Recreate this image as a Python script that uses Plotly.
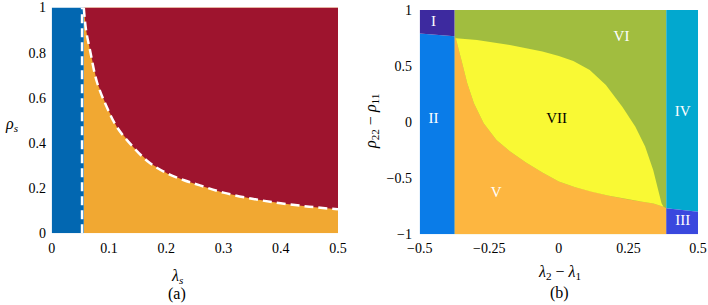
import plotly.graph_objects as go

# ---------------- data: panel (a) ----------------
lam_ticks = [0, 0.1, 0.2, 0.3, 0.4, 0.5]
lam_ticktext = ["0", "0.1", "0.2", "0.3", "0.4", "0.5"]
rho_ticks = [0, 0.2, 0.4, 0.6, 0.8, 1]
rho_ticktext = ["0", "0.2", "0.4", "0.6", "0.8", "1"]

lam_blue_edge = 0.056          # blue / orange boundary
lam_vline = 0.053              # dashed vertical line
# dashed boundary between orange and red regions
lam_curve = [0.056, 0.060, 0.067, 0.079, 0.096, 0.114, 0.143, 0.172, 0.201,
             0.230, 0.259, 0.300, 0.350, 0.400, 0.450, 0.500]
rho_curve = [1.000, 0.900, 0.810, 0.670, 0.560, 0.470, 0.380, 0.310, 0.266,
             0.236, 0.212, 0.180, 0.153, 0.133, 0.118, 0.106]

# ---------------- data: panel (b) ----------------
dl_ticks = [-0.5, -0.25, 0, 0.25, 0.5]
dl_ticktext = ["\u22120.5", "\u22120.25", "0", "0.25", "0.5"]
dr_ticks = [-1, -0.5, 0, 0.5, 1]
dr_ticktext = ["\u22121", "\u22120.5", "0", "0.5", "1"]

x_left_edge = -0.375           # II / V boundary
x_right_edge = 0.386           # VI,V / IV,III boundary
I_bottom_x = [-0.5, -0.375]
I_bottom_y = [0.790, 0.765]
III_top_x = [0.386, 0.5]
III_top_y = [-0.767, -0.798]
# yellow region (VII) upper boundary
vii_up_x = [-0.370, -0.294, -0.176, -0.059, 0.000, 0.052, 0.111, 0.169, 0.228,
            0.275, 0.310, 0.339, 0.357, 0.369, 0.376]
vii_up_y = [0.748, 0.733, 0.688, 0.630, 0.590, 0.545, 0.465, 0.332, 0.138,
            -0.040, -0.218, -0.426, -0.604, -0.723, -0.755]
# yellow region (VII) lower boundary
vii_lo_x = [-0.370, -0.347, -0.329, -0.305, -0.270, -0.224, -0.176, -0.118,
            -0.059, 0.000, 0.059, 0.118, 0.176, 0.250, 0.300, 0.340, 0.376]
vii_lo_y = [0.745, 0.525, 0.347, 0.168, -0.010, -0.159, -0.260, -0.360,
            -0.450, -0.530, -0.580, -0.620, -0.655, -0.690, -0.710, -0.725, -0.755]

region_names = ["I", "II", "III", "IV", "V", "VI", "VII"]
region_lx = [-0.45, -0.45, 0.445, 0.445, -0.225, 0.225, -0.008]
region_ly = [0.89, 0.03, -0.885, 0.09, -0.63, 0.76, 0.03]
region_tc = ["white", "white", "white", "white", "white", "white", "black"]

# ---------------- colours ----------------
C_BLUE, C_RED, C_ORANGE = "#0267B1", "#9E142E", "#F1A832"
C_I, C_II, C_III, C_IV = "#3D2A9F", "#0A7CE8", "#3A48DE", "#02A8CF"
C_V, C_VI, C_VII = "#FDB640", "#A1BD3F", "#F9F934"

FONT = "'Liberation Serif', 'DejaVu Serif', serif"
fig = go.Figure()


def poly(xs, ys, color, xa, ya):
    fig.add_trace(go.Scatter(x=xs, y=ys, fill="toself", fillcolor=color,
                             mode="lines", line=dict(width=0, color=color),
                             hoverinfo="skip", showlegend=False,
                             xaxis=xa, yaxis=ya))


# panel (a)
poly([lam_blue_edge, 0.5, 0.5, lam_blue_edge], [0, 0, 1, 1], C_ORANGE, "x", "y")
poly(lam_curve + [0.5], rho_curve + [1.0], C_RED, "x", "y")
poly([0, lam_blue_edge, lam_blue_edge, 0], [0, 0, 1, 1], C_BLUE, "x", "y")
fig.add_trace(go.Scatter(x=[lam_vline, lam_vline], y=[0, 1], mode="lines",
                         line=dict(color="white", width=2.5, dash="9px,5px"),
                         hoverinfo="skip", showlegend=False, xaxis="x", yaxis="y"))
fig.add_trace(go.Scatter(x=lam_curve, y=rho_curve, mode="lines", line_shape="spline",
                         line=dict(color="white", width=2.5, dash="9px,5px"),
                         hoverinfo="skip", showlegend=False, xaxis="x", yaxis="y"))

# panel (b)
poly([x_left_edge, x_right_edge, x_right_edge, x_left_edge], [-1, -1, 1, 1], C_VI, "x2", "y2")
poly([x_left_edge, x_right_edge] + III_top_x[:1] + vii_lo_x[::-1] + [x_left_edge],
     [-1, -1] + III_top_y[:1] + vii_lo_y[::-1] + [I_bottom_y[1]], C_V, "x2", "y2")
poly(vii_up_x + vii_lo_x[::-1], vii_up_y + vii_lo_y[::-1], C_VII, "x2", "y2")
poly([-0.5, x_left_edge, x_left_edge, -0.5], [-1, -1] + I_bottom_y[::-1], C_II, "x2", "y2")
poly(I_bottom_x + [x_left_edge, -0.5], I_bottom_y + [1, 1], C_I, "x2", "y2")
poly(III_top_x + [0.5, x_right_edge], III_top_y + [1, 1], C_IV, "x2", "y2")
poly(III_top_x[::-1] + [x_right_edge, 0.5], III_top_y[::-1] + [-1, -1], C_III, "x2", "y2")

fig.add_trace(go.Scatter(x=region_lx, y=region_ly, mode="text", text=region_names,
                         textfont=dict(family=FONT, size=15, color=region_tc),
                         hoverinfo="skip", showlegend=False, xaxis="x2", yaxis="y2"))

W, H = 708, 305
axcommon = dict(showgrid=False, zeroline=False, showline=False, ticks="outside",
                tickcolor="rgba(0,0,0,0)", automargin=False, ticklabeloverflow="allow",
                tickfont=dict(family=FONT, size=14, color="black"), fixedrange=True)
fig.update_layout(
    width=W, height=H, margin=dict(l=0, r=0, t=0, b=0, autoexpand=False),
    font=dict(family=FONT, color="black"),
    paper_bgcolor="white", plot_bgcolor="white",
    xaxis=dict(domain=[51.7 / W, 338.0 / W], range=[0, 0.5], tickvals=lam_ticks,
               ticktext=lam_ticktext, anchor="y", ticklen=2, **axcommon),
    yaxis=dict(domain=[1 - 233.3 / H, 1 - 7.5 / H], range=[0, 1], tickvals=rho_ticks,
               ticktext=rho_ticktext, anchor="x", ticklen=2, **axcommon),
    xaxis2=dict(domain=[419.7 / W, 698.0 / W], range=[-0.5, 0.5], tickvals=dl_ticks,
                ticktext=dl_ticktext, anchor="y2", ticklen=1, **axcommon),
    yaxis2=dict(domain=[1 - 234.3 / H, 1 - 10.0 / H], range=[-1, 1], tickvals=dr_ticks,
                ticktext=dr_ticktext, anchor="x2", ticklen=4, **axcommon),
)

ann = dict(xref="paper", yref="paper", showarrow=False, xanchor="center", yanchor="middle",
           font=dict(family=FONT, size=16, color="black"))
fig.add_annotation(x=177 / W, y=1 - 276 / H, text="<i>λ<sub>s</sub></i>", **ann)
fig.add_annotation(x=12 / W, y=1 - 124 / H, text="<i>ρ<sub>s</sub></i>", **ann)
fig.add_annotation(x=177 / W, y=1 - 294 / H, text="(a)", **ann)
fig.add_annotation(x=559 / W, y=1 - 272 / H, text="<i>λ</i><sub>2</sub> − <i>λ</i><sub>1</sub>", **ann)
fig.add_annotation(x=371 / W, y=1 - 122 / H, textangle=-90,
                   text="<i>ρ</i><sub>22</sub> − <i>ρ</i><sub>11</sub>", **ann)
fig.add_annotation(x=559 / W, y=1 - 293 / H, text="(b)", **ann)

fig.write_html("out.html", config={"displayModeBar": False},
               post_script="document.body.style.margin='0';")
